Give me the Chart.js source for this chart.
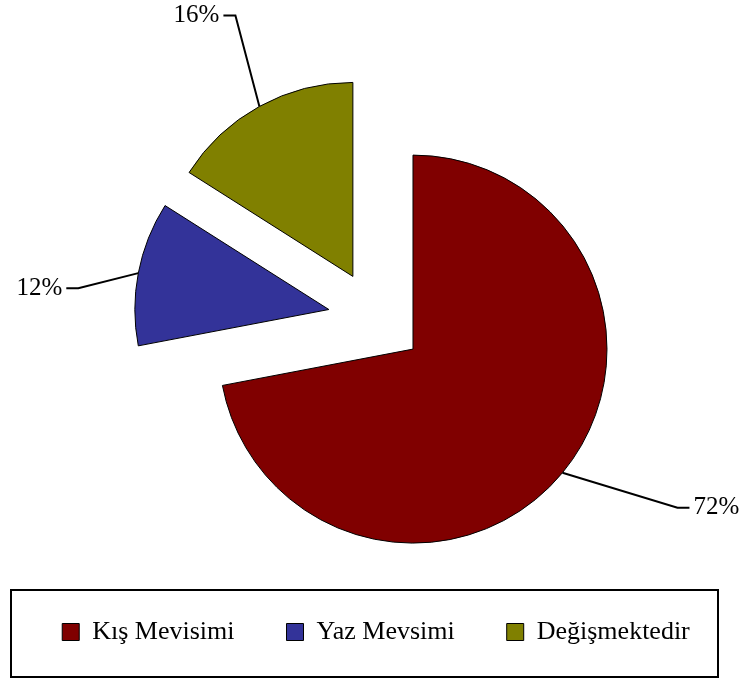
<!DOCTYPE html>
<html>
<head>
<meta charset="utf-8">
<script src="https://cdn.jsdelivr.net/npm/chart.js@4.4.0/dist/chart.umd.min.js"></script>
<style>
  html, body { margin: 0; padding: 0; background: #fff; }
  #wrap { width: 744px; height: 679px; position: relative; }
</style>
</head>
<body>
<div id="wrap"><canvas id="pie"></canvas></div>
<script>
// veriler
const categories = ['Kış Mevisimi', 'Yaz Mevsimi', 'Değişmektedir'];
const values = [72, 12, 16];
const colors = ['#800000', '#333399', '#808000'];

const SERIF = "'Times New Roman', 'Liberation Serif', serif";
const EXPLODE = 48;     // her dilim merkezden bu kadar dışarı
// etiket kırılma noktaları, dilimin yay ortasına göre
const labelNudge = [[115, 35], [-60, 15], [-24, -91]];

// dilimleri ayrık çiz (Excel'deki "explode" gibi)
const explodePlugin = {
    id: 'explode',
    beforeDatasetDraw(chart, args) {
        const ctx = chart.ctx;
        args.meta.data.forEach(function (arc) {
            const mid = (arc.startAngle + arc.endAngle) / 2;
            ctx.save();
            ctx.translate(Math.cos(mid) * EXPLODE, Math.sin(mid) * EXPLODE);
            arc.draw(ctx);
            ctx.restore();
        });
        return false;
    }
};

// yüzde etiketleri ve kılavuz çizgileri
const leaderPlugin = {
    id: 'leaders',
    afterDatasetsDraw(chart) {
        const ctx = chart.ctx;
        const meta = chart.getDatasetMeta(0);
        const data = chart.data.datasets[0].data;
        const total = data.reduce((a, b) => a + b, 0);
        meta.data.forEach(function (arc, i) {
            const mid = (arc.startAngle + arc.endAngle) / 2;
            const r = arc.outerRadius + EXPLODE;
            const px = arc.x + Math.cos(mid) * r;
            const py = arc.y + Math.sin(mid) * r;
            const ex = px + labelNudge[i][0];
            const ey = py + labelNudge[i][1];
            const dir = labelNudge[i][0] > 0 ? 1 : -1;
            ctx.save();
            ctx.strokeStyle = '#000';
            ctx.lineWidth = 2;
            ctx.beginPath();
            ctx.moveTo(px, py);
            ctx.lineTo(ex, ey);
            ctx.lineTo(ex + dir * 12, ey);
            ctx.stroke();
            ctx.fillStyle = '#000';
            ctx.font = '25px ' + SERIF;
            ctx.textBaseline = 'middle';
            ctx.textAlign = dir > 0 ? 'left' : 'right';
            const pct = Math.round(data[i] / total * 100) + '%';
            ctx.fillText(pct, ex + dir * 16, ey);
            ctx.restore();
        });
    }
};

// lejant çerçevesi
const legendBoxPlugin = {
    id: 'legendBox',
    afterDraw(chart) {
        const hb = chart.legend.legendHitBoxes[0];
        if (!hb) return;
        const cy = hb.top + hb.height / 2;
        const ctx = chart.ctx;
        ctx.save();
        ctx.strokeStyle = '#000';
        ctx.lineWidth = 2;
        ctx.strokeRect(11, cy - 42, 707, 87);
        ctx.restore();
    }
};

Chart.defaults.font.family = SERIF;
Chart.defaults.color = '#000';

new Chart(document.getElementById('pie'), {
    type: 'pie',
    data: {
        labels: categories,
        datasets: [{
            data: values,
            backgroundColor: colors,
            borderColor: '#000',
            borderWidth: 1,
            borderJoinStyle: 'miter'
        }]
    },
    options: {
        responsive: true,
        maintainAspectRatio: false,
        animation: false,
        radius: 194,
        layout: { padding: { left: 8, right: 0, top: 70, bottom: 24 } },
        plugins: {
            legend: {
                display: true,
                position: 'bottom',
                labels: {
                    boxWidth: 17,
                    boxHeight: 17,
                    padding: 52,
                    font: { size: 26, family: SERIF }
                }
            },
            tooltip: { enabled: false }
        }
    },
    plugins: [explodePlugin, leaderPlugin, legendBoxPlugin]
});
</script>
</body>
</html>
